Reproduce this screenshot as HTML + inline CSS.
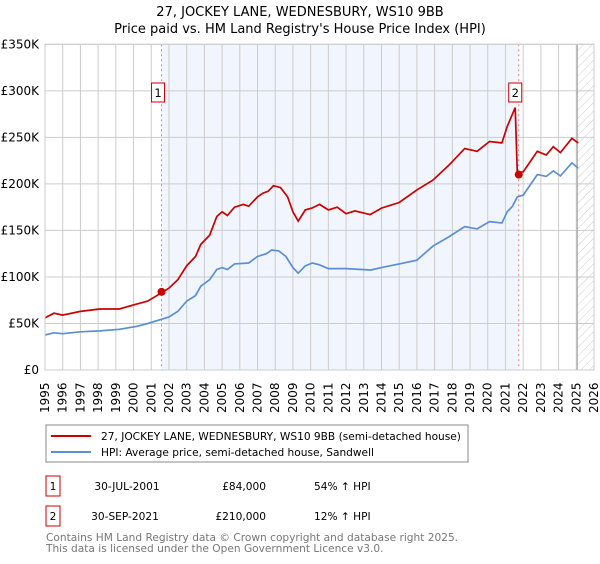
<!DOCTYPE html>
<html><head><meta charset="utf-8"><style>
body{margin:0;background:#fff;font-family:"DejaVu Sans","Liberation Sans",sans-serif;}
svg text{font-family:"DejaVu Sans","Liberation Sans",sans-serif;}
</style></head><body>
<svg id="c" width="600" height="560" xmlns="http://www.w3.org/2000/svg">
<defs><pattern id="hatch" width="6" height="6" patternUnits="userSpaceOnUse" patternTransform="rotate(45)"><line x1="0" y1="0" x2="0" y2="6" stroke="#ccc" stroke-width="1"/></pattern></defs>
<text x="300" y="16" text-anchor="middle" font-size="13">27, JOCKEY LANE, WEDNESBURY, WS10 9BB</text>
<text x="300" y="33" text-anchor="middle" font-size="13">Price paid vs. HM Land Registry's House Price Index (HPI)</text>
<g id="plot"></g>
<rect x="46" y="425" width="422" height="37" fill="#fff" stroke="#888"/>
<line x1="51" y1="436" x2="91" y2="436" stroke="#cc0000" stroke-width="2"/>
<text x="101" y="440" font-size="10.6">27, JOCKEY LANE, WEDNESBURY, WS10 9BB (semi-detached house)</text>
<line x1="51" y1="452" x2="91" y2="452" stroke="#5b8fd4" stroke-width="2"/>
<text x="101" y="456" font-size="10.6">HPI: Average price, semi-detached house, Sandwell</text>
<g>
<rect x="46" y="476" width="14" height="20" fill="#fff" stroke="#cc0000"/><text x="53" y="490" text-anchor="middle" font-size="10.6">1</text>
<text x="127" y="490" text-anchor="middle" font-size="10.6">30-JUL-2001</text>
<text x="266" y="490" text-anchor="end" font-size="10.6">£84,000</text>
<text x="314" y="490" font-size="10.6">54% ↑ HPI</text></g>
<g>
<rect x="46" y="506" width="14" height="20" fill="#fff" stroke="#cc0000"/><text x="53" y="520" text-anchor="middle" font-size="10.6">2</text>
<text x="125" y="520" text-anchor="middle" font-size="10.6">30-SEP-2021</text>
<text x="266" y="520" text-anchor="end" font-size="10.6">£210,000</text>
<text x="314" y="520" font-size="10.6">12% ↑ HPI</text></g>
<text x="46" y="541" font-size="10.6" fill="#777">Contains HM Land Registry data © Crown copyright and database right 2025.</text>
<text x="46" y="552" font-size="10.6" fill="#777">This data is licensed under the Open Government Licence v3.0.</text>
</svg>
<script>
const yTicks=[0,50000,100000,150000,200000,250000,300000,350000];
const yTickLabels=["£0","£50K","£100K","£150K","£200K","£250K","£300K","£350K"];
const years=[1995,1996,1997,1998,1999,2000,2001,2002,2003,2004,2005,2006,2007,2008,2009,2010,2011,2012,2013,2014,2015,2016,2017,2018,2019,2020,2021,2022,2023,2024,2025,2026];
const hpiT=[1995,1995.5,1996,1997,1998.1,1999.2,2000.2,2000.8,2001.5,2002,2002.5,2003,2003.5,2003.8,2004.3,2004.7,2005,2005.3,2005.7,2006.5,2007,2007.5,2007.8,2008.2,2008.6,2009,2009.3,2009.7,2010.1,2010.5,2011,2012,2013.4,2014,2015,2016,2016.9,2017.8,2018.7,2019.4,2020.1,2020.8,2021.1,2021.4,2021.67,2022,2022.8,2023.3,2023.7,2024.1,2024.75,2025.1];
const hpiV=[37.6,40,39,41,42,43.7,47,50,54,57,63,74,80,90,97,108,110,108,114,115,122,125,129,128,122,110,104,112,115,113,109,109,107.5,110,114,118,133,143,154,151.6,159.5,158,170,176,186,188,210,208,214,208.6,222.6,217];
const priceT=[1995,1995.5,1996,1997,1998.1,1999.2,2000.2,2000.8,2001.58,2002,2002.5,2003,2003.5,2003.8,2004.3,2004.7,2005,2005.3,2005.7,2006.2,2006.5,2007,2007.3,2007.6,2007.9,2008.3,2008.7,2009,2009.3,2009.7,2010.07,2010.5,2011,2011.5,2012,2012.5,2013.36,2014,2014.5,2015,2016,2016.9,2017.8,2018.7,2019.4,2020.1,2020.8,2021.1,2021.55,2021.67,2022,2022.8,2023.3,2023.7,2024.1,2024.75,2025.1];
const priceV=[56,61,59,63,65.6,65.6,71,74,83,88,97,112,122,135,145,165,170,166,175,178,176,186,190,192,198,196,186,170,160,172,174,178,172,175,168,171,167,174,177,180,193.5,204,220,238,235,245.5,244,261.6,282,212,213,235,231,240,233.6,249,244];
const sales=[{t:2001.58,v:84000,n:"1"},{t:2021.75,v:210000,n:"2"}];
const X0=45,X1=594,Y0=370,Y1=44.3;
const xs=t=>X0+(t-1995)/(2026-1995)*(X1-X0);
const ys=v=>Y0-v/350000*(Y0-Y1);
const NS="http://www.w3.org/2000/svg",g=document.getElementById('plot');
function mk(tag,a,p){const e=document.createElementNS(NS,tag);for(const k in a)e.setAttribute(k,a[k]);(p||g).appendChild(e);return e;}
let e=mk('rect',{x:xs(sales[0].t),y:Y1,width:xs(sales[1].t)-xs(sales[0].t),height:Y0-Y1,fill:'#f1f5fd'});


e=mk('rect',{x:xs(2025.05),y:Y1,width:X1-xs(2025.05),height:Y0-Y1,fill:'url(#hatch)'});


years.forEach(y=>{
 let l=mk('line',{x1:xs(y),x2:xs(y),y1:Y1,y2:Y0,stroke:'#ccc','stroke-width':1});
 
 
 let t=mk('text',{x:0,y:0,'font-size':12,transform:`translate(${xs(y)+4},${Y0+43}) rotate(-90)`});
 t.textContent=y;
 
 
});
yTicks.forEach((v,i)=>{
 let l=mk('line',{x1:X0,x2:X1,y1:ys(v),y2:ys(v),stroke:'#ccc','stroke-width':1});
 
 
 let t=mk('text',{x:39,y:ys(v)+4,'font-size':12,'text-anchor':'end'});
 t.textContent=yTickLabels[i];
 
 
});
e=mk('line',{x1:xs(2025.05),x2:xs(2025.05),y1:Y1,y2:Y0,stroke:'#999','stroke-width':1});


sales.forEach(s=>{
 let l=mk('line',{x1:xs(s.t),x2:xs(s.t),y1:Y1,y2:Y0,stroke:'#f08080','stroke-width':1,'stroke-dasharray':'2,3'});
 
 
});
e=mk('path',{d:hpiT.map((t,i)=>(i?'L':'M')+xs(t).toFixed(1)+','+ys(hpiV[i]*1000).toFixed(1)).join(''),fill:'none',stroke:'#5b8fd4','stroke-width':1.7});


e=mk('path',{d:priceT.map((t,i)=>(i?'L':'M')+xs(t).toFixed(1)+','+ys(priceV[i]*1000).toFixed(1)).join(''),fill:'none',stroke:'#cc0000','stroke-width':1.7});


sales.forEach(s=>{
 let c=mk('circle',{cx:xs(s.t),cy:ys(s.v),r:4,fill:'#cc0000'});
 
 
 let b=mk('rect',{x:xs(s.t)-10,y:83,width:13,height:19,fill:'#fff',stroke:'#cc0000'});
 
 
 let t=mk('text',{x:xs(s.t)-3.5,y:97,'font-size':11.5,'text-anchor':'middle'});
 t.textContent=s.n;
 
 
});
e=mk('rect',{x:X0,y:Y1,width:X1-X0,height:Y0-Y1,fill:'none',stroke:'#ccc'});


</script>
</body></html>
